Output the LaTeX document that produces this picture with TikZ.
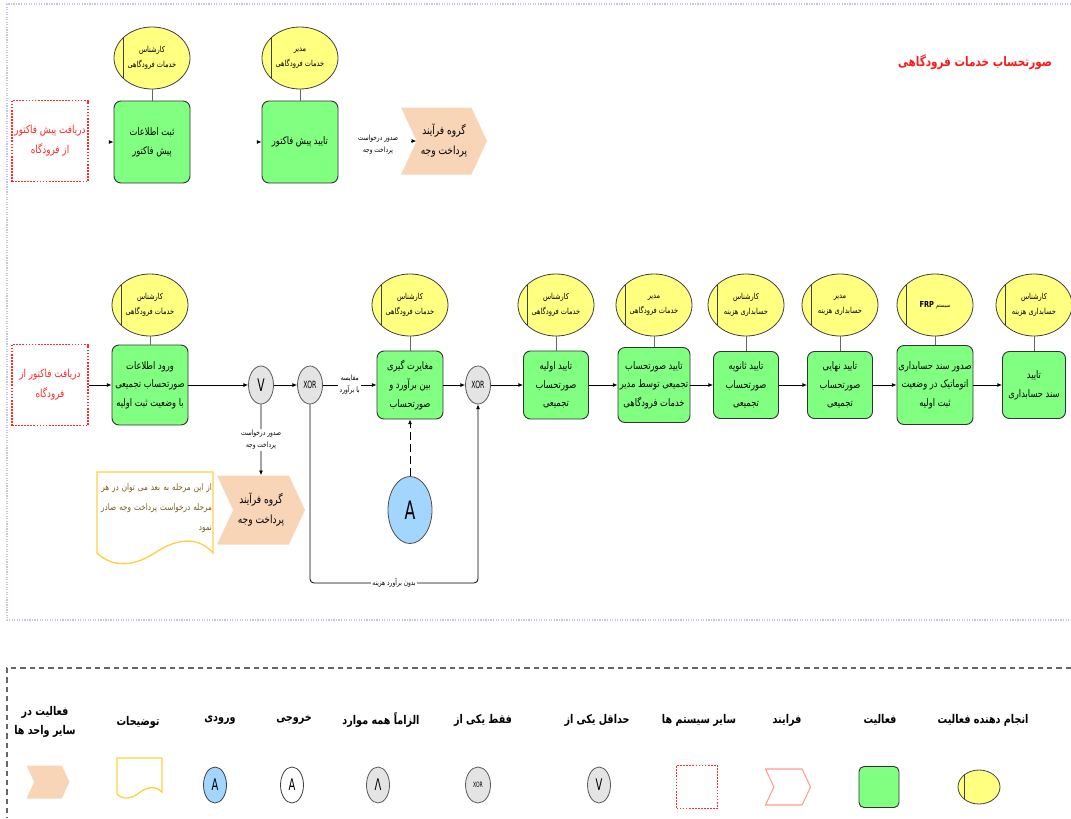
\documentclass[tikz,border=0pt]{standalone}
\usepackage{fontspec}
\usetikzlibrary{shapes.geometric,shapes.symbols,arrows.meta,calc}
\TeXXeTstate=1
\newfontfamily\arabicfont[Script=Arabic,FakeStretch=0.8]{DejaVu Sans}
\newfontfamily\gatefont[FakeStretch=0.62]{DejaVu Sans}
\newcommand\fa[1]{{\arabicfont\beginR #1\endR}}
\newdimen\pxu \pxu=0.75pt
\definecolor{actgreen}{HTML}{80FF80}
\definecolor{perfyellow}{HTML}{FFFF80}
\definecolor{gategray}{HTML}{E4E4E4}
\definecolor{inblue}{HTML}{A3D6FF}
\definecolor{peach}{HTML}{F9D5B8}
\definecolor{sysred}{HTML}{FF2A2A}
\definecolor{framelav}{HTML}{C9C3E6}
\definecolor{notebrown}{HTML}{7A5A18}
\definecolor{noteline}{HTML}{FFD040}
\definecolor{procpink}{HTML}{FF9A9A}
\definecolor{titlered}{HTML}{FF1A1A}
\begin{document}
\begin{tikzpicture}[x=0.75pt,y=-0.75pt,
  performer/.style={ellipse, draw=black!75, fill=perfyellow, line width=0.6pt,
    minimum width=76\pxu, minimum height=62\pxu, inner sep=0pt, align=center,
    font=\fontsize{6.2}{11}\selectfont,
    path picture={\draw[black!75, line width=0.6pt]
      ([xshift=-29\pxu]path picture bounding box.north) --
      ([xshift=-29\pxu]path picture bounding box.south);}},
  activity/.style={rectangle, rounded corners=7\pxu, draw=black!80, fill=actgreen,
    line width=0.7pt, minimum width=76\pxu, minimum height=80\pxu, inner sep=1pt,
    align=center, font=\fontsize{7.8}{14}\selectfont},
  sysbox/.style={rectangle, draw=sysred, densely dotted, line width=1.3pt,
    minimum width=76\pxu, minimum height=81\pxu, inner sep=1pt, text=sysred,
    align=center, font=\fontsize{8.3}{15}\selectfont},
  gate/.style={ellipse, draw=black!65, fill=gategray, line width=0.6pt,
    minimum width=25\pxu, minimum height=38\pxu, inner sep=0pt},
  procgrp/.style={signal, signal from=west, signal to=east, signal pointer angle=130,
    fill=peach, minimum width=86\pxu, minimum height=67\pxu, inner sep=1pt,
    align=center, font=\fontsize{8.5}{15}\selectfont},
  smalllbl/.style={align=center, inner sep=1pt, font=\fontsize{5.5}{9}\selectfont},
  legendlbl/.style={align=center, inner sep=1pt, font=\fontsize{9}{14}\selectfont\bfseries},
  arr/.style={-{Latex[length=3.5pt,width=3pt]}, line width=0.6pt, black},
  link/.style={draw=black!60, line width=0.6pt}]
\useasboundingbox (0,0) rectangle (1071,818);

% frames
\draw[framelav, densely dotted, line width=0.9pt] (1071,4) -- (7,4) -- (7,620) -- (1071,620);
\draw[black!60, line width=0.8pt, dash pattern=on 4pt off 3pt] (1071,668) -- (7,668) -- (7,818);

% title
\node[text=titlered, font=\fontsize{9.8}{12}\selectfont\bfseries] (title) at (975,62)
  {\fa{صورتحساب خدمات فرودگاهی}};

% ---- pre-invoice row ----
\node[sysbox] (s1) at (50,141) {\fa{دریافت پیش فاکتور}\\\fa{از فرودگاه}};
\node[performer] (e1) at (152,58) {\fa{کارشناس}\\\fa{خدمات فرودگاهی}};
\node[activity, minimum height=82\pxu] (a1) at (152,142) {\fa{ثبت اطلاعات}\\\fa{پیش فاکتور}};
\node[performer] (e2) at (300,58) {\fa{مدیر}\\\fa{خدمات فرودگاهی}};
\node[activity, minimum height=82\pxu] (a2) at (300,142) {\fa{تایید پیش فاکتور}};
\node[procgrp] (p1) at (444,141) {\fa{گروه فرآیند}\\\fa{پرداخت وجه}};
\node[smalllbl] (l1) at (378,145) {\fa{صدور درخواست}\\\fa{پرداخت وجه}};
\draw[link] (e1) -- (a1);
\draw[link] (e2) -- (a2);
\draw[arr] ([xshift=-5\pxu]a1.west) -- (a1.west);
\draw[arr] ([xshift=-5\pxu]a2.west) -- (a2.west);
\draw[arr] ([xshift=-5\pxu]p1.west) -- (p1.west);

% ---- invoice row ----
\node[sysbox] (s2) at (50,385) {\fa{دریافت فاکتور از}\\\fa{فرودگاه}};
\node[performer] (e3) at (150,305) {\fa{کارشناس}\\\fa{خدمات فرودگاهی}};
\node[activity] (b1) at (150,385) {\fa{ورود اطلاعات}\\\fa{صورتحساب تجمیعی}\\\fa{با وضعیت ثبت اولیه}};
\node[gate, font=\gatefont\fontsize{13}{13}\selectfont] (g1) at (261,385) {V};
\node[gate, font=\gatefont\fontsize{7.5}{8}\selectfont] (g2) at (310,385) {XOR};
\node[performer] (e4) at (410,305) {\fa{کارشناس}\\\fa{خدمات فرودگاهی}};
\node[activity, minimum width=66\pxu, minimum height=68\pxu] (b2) at (410,385)
  {\fa{مغایرت گیری}\\\fa{بین برآورد و}\\\fa{صورتحساب}};
\node[gate, font=\gatefont\fontsize{7.5}{8}\selectfont] (g3) at (478,385) {XOR};
\node[performer] (e5) at (556,305) {\fa{کارشناس}\\\fa{خدمات فرودگاهی}};
\node[activity, minimum width=65\pxu, minimum height=68\pxu] (b3) at (556,385)
  {\fa{تایید اولیه}\\\fa{صورتحساب}\\\fa{تجمیعی}};
\node[performer] (e6) at (654,305) {\fa{مدیر}\\\fa{خدمات فرودگاهی}};
\node[activity, minimum width=72\pxu, minimum height=75\pxu] (b4) at (654,385)
  {\fa{تایید صورتحساب}\\\fa{تجمیعی توسط مدیر}\\\fa{خدمات فرودگاهی}};
\node[performer] (e7) at (746,305) {\fa{کارشناس}\\\fa{حسابداری هزینه}};
\node[activity, minimum width=65\pxu, minimum height=67\pxu] (b5) at (746,385)
  {\fa{تایید ثانویه}\\\fa{صورتحساب}\\\fa{تجمیعی}};
\node[performer] (e8) at (840,305) {\fa{مدیر}\\\fa{حسابداری هزینه}};
\node[activity, minimum width=65\pxu, minimum height=67\pxu] (b6) at (840,385)
  {\fa{تایید نهایی}\\\fa{صورتحساب}\\\fa{تجمیعی}};
\node[performer] (e9) at (935,305)
  {\fa{{\fontsize{4.5}{5}\selectfont سیستم}\ \beginL\textbf{FRP}\endL}};
\node[activity, minimum width=76\pxu, minimum height=79\pxu] (b7) at (935,385)
  {\fa{صدور سند حسابداری}\\\fa{اتوماتیک در وضعیت}\\\fa{ثبت اولیه}};
\node[performer] (e10) at (1034,305) {\fa{کارشناس}\\\fa{حسابداری هزینه}};
\node[activity, minimum width=63\pxu, minimum height=67\pxu] (b8) at (1034,385)
  {\fa{تایید}\\\fa{سند حسابداری}};

\foreach \p/\a in {e3/b1,e4/b2,e5/b3,e6/b4,e7/b5,e8/b6,e9/b7,e10/b8}
  \draw[link] (\p) -- (\a);

\draw[arr] (s2) -- (b1);
\draw[arr] (b1) -- (g1);
\draw[arr] (g1) -- (g2);
\draw[arr] (g2) -- node[smalllbl, fill=white] (l2) {\fa{مقایسه}\\\fa{با برآورد}} (b2);
\draw[arr] (b2) -- (g3);
\draw[arr] (g3) -- (b3);
\draw[arr] (b3) -- (b4);
\draw[arr] (b4) -- (b5);
\draw[arr] (b5) -- (b6);
\draw[arr] (b6) -- (b7);
\draw[arr] (b7) -- (b8);

% payment request branch
\node[procgrp, minimum width=88\pxu, minimum height=69\pxu] (p2) at (261,510)
  {\fa{گروه فرآیند}\\\fa{پرداخت وجه}};
\draw[arr] (g1) -- node[smalllbl, fill=white] (l4) {\fa{صدور درخواست}\\\fa{پرداخت وجه}} (p2);

% bypass without cost estimate
\coordinate (lp) at (310,583);
\draw[arr, rounded corners=3pt] (g2) -- (lp) -| node[pos=0.25, smalllbl, fill=white] (l3)
  {\fa{بدون برآورد هزینه}} (g3);

% input to reconciliation
\node[ellipse, draw=black!70, fill=inblue, line width=0.6pt, minimum width=44\pxu,
  minimum height=67\pxu, inner sep=0pt, font=\gatefont\fontsize{19}{19}\selectfont]
  (inA) at (410,510) {A};
\draw[arr, dash pattern=on 6pt off 3pt] (inA) -- (b2);

% note
\draw[noteline, line width=1pt, fill=white] (97,472) -- (213,472) -- (213,553)
  .. controls (200,538) and (180,537) .. (158,551)
  .. controls (136,566) and (114,569) .. (97,553) -- cycle;
\node[align=right, text=notebrown, inner sep=0pt, font=\fontsize{6.8}{15}\selectfont,
  text width=114\pxu] (nt) at (155,508)
  {\fa{از این مرحله به بعد می توان در هر}\\\fa{مرحله درخواست پرداخت وجه صادر}\\\fa{نمود}};

% ---- legend ----
\node[legendlbl] (k1) at (983,720) {\fa{انجام دهنده فعالیت}};
\node[performer, minimum width=42\pxu, minimum height=34\pxu,
  path picture={\draw[black!75, line width=0.6pt]
    ([xshift=-15\pxu]path picture bounding box.north) --
    ([xshift=-15\pxu]path picture bounding box.south);}] (k1s) at (979,787) {};
\node[legendlbl] (k2) at (880,720) {\fa{فعالیت}};
\node[activity, minimum width=40\pxu, minimum height=41\pxu, rounded corners=5\pxu] (k2s) at (879,787) {};
\node[legendlbl] (k3) at (787,720) {\fa{فرایند}};
\node[signal, signal from=west, signal to=east, signal pointer angle=130, draw=procpink,
  line width=0.8pt, minimum width=45\pxu, minimum height=36\pxu] (k3s) at (788,787) {};
\node[legendlbl] (k4) at (699,720) {\fa{سایر سیستم ها}};
\node[sysbox, minimum width=41\pxu, minimum height=43\pxu] (k4s) at (697,787) {};
\node[legendlbl] (k5) at (597,720) {\fa{حداقل یکی از}};
\node[gate, minimum width=23\pxu, minimum height=36\pxu,
  font=\gatefont\fontsize{12}{12}\selectfont] (k5s) at (599,785) {V};
\node[legendlbl] (k6) at (483,720) {\fa{فقط یکی از}};
\node[gate, minimum width=25\pxu, minimum height=36\pxu,
  font=\gatefont\fontsize{5.5}{6}\selectfont] (k6s) at (478,785) {XOR};
\node[legendlbl] (k7) at (381,720) {\fa{الزاماً همه موارد}};
\node[gate, minimum width=23\pxu, minimum height=36\pxu,
  font=\gatefont\fontsize{12}{12}\selectfont] (k7s) at (378,785) {Λ};
\node[legendlbl] (k8) at (294,720) {\fa{خروجی}};
\node[ellipse, draw=black!75, fill=white, line width=0.6pt, minimum width=23\pxu,
  minimum height=36\pxu, inner sep=0pt, font=\gatefont\fontsize{12}{12}\selectfont]
  (k8s) at (292,785) {A};
\node[legendlbl] (k9) at (220,720) {\fa{ورودی}};
\node[ellipse, draw=black!75, fill=inblue, line width=0.6pt, minimum width=23\pxu,
  minimum height=36\pxu, inner sep=0pt, font=\gatefont\fontsize{12}{12}\selectfont]
  (k9s) at (215,785) {A};
\node[legendlbl] (k10) at (138,722) {\fa{توضیحات}};
\draw[noteline, line width=1pt] (117,758) -- (162,758) -- (162,792)
  .. controls (155,786) and (148,786) .. (139,793)
  .. controls (131,799) and (123,800) .. (117,794) -- cycle;
\node[legendlbl] (k11) at (45,722) {\fa{فعالیت در}\\\fa{سایر واحد ها}};
\node[signal, signal from=west, signal to=east, signal pointer angle=130, fill=peach,
  minimum width=43\pxu, minimum height=33\pxu] (k11s) at (48,782) {};
\end{tikzpicture}
\end{document}
